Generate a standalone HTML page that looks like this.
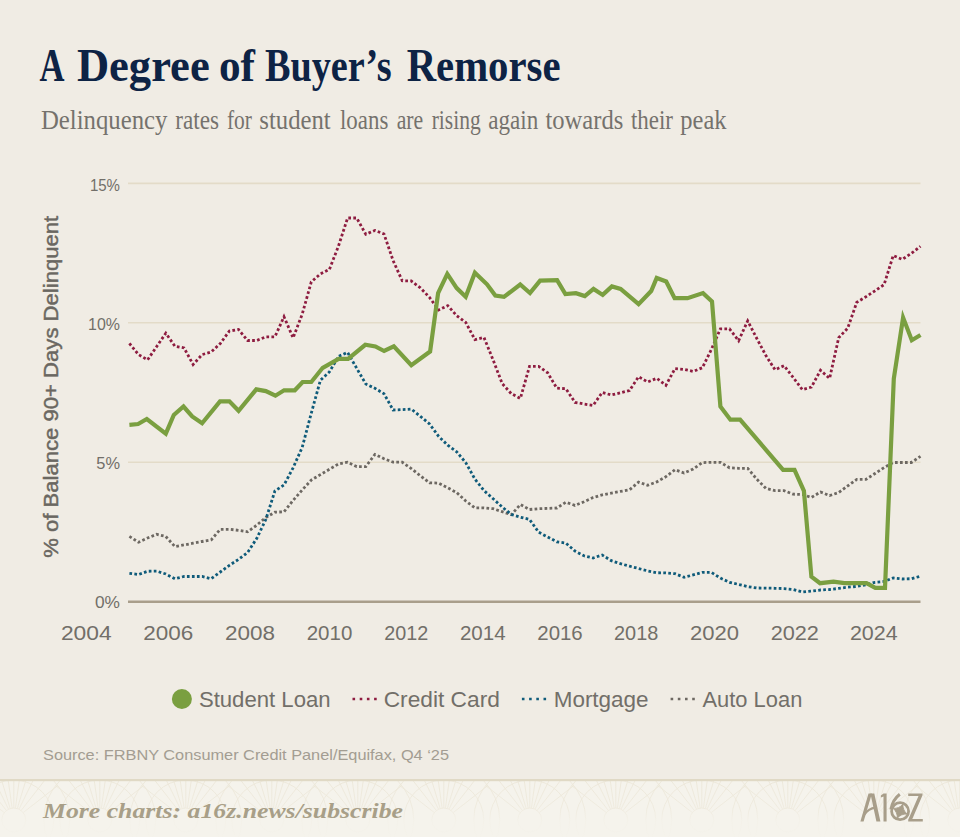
<!DOCTYPE html>
<html><head><meta charset="utf-8"><title>A Degree of Buyer's Remorse</title>
<style>
html,body{margin:0;padding:0;background:#f0ece4;}
body{width:960px;height:837px;overflow:hidden;font-family:"Liberation Sans",sans-serif;}
svg{display:block}
</style></head><body>
<svg width="960" height="837" viewBox="0 0 960 837">
<defs>
<clipPath id="fclip"><rect x="0" y="781" width="960" height="56"/></clipPath>
<linearGradient id="fade" x1="0" y1="0" x2="0" y2="1"><stop offset="0" stop-color="#f5f3ec" stop-opacity="0.1"/><stop offset="0.5" stop-color="#f5f3ec" stop-opacity="0.35"/><stop offset="0.72" stop-color="#f5f3ec" stop-opacity="0.85"/><stop offset="1" stop-color="#f5f3ec" stop-opacity="0.95"/></linearGradient>
</defs>
<rect width="960" height="837" fill="#f0ece4"/>

<rect x="0" y="780" width="960" height="57" fill="#f5f3ec"/>
<g clip-path="url(#fclip)" fill="none" stroke="#ebe5d6" stroke-width="0.9"><circle cx="-72.25" cy="820" r="12"/><circle cx="-72.25" cy="820" r="40"/><circle cx="-72.25" cy="820" r="56"/><path d="M-62.8 812.6 L-28.1 785.5 M-64.9 810.5 L-37.8 775.9 M-67.0 809.2 L-47.7 769.7 M-68.7 808.5 L-55.9 766.4 M-70.6 808.1 L-64.5 764.5 M-72.2 808.0 L-72.2 764.0 M-73.9 808.1 L-80.0 764.5 M-75.8 808.5 L-88.6 766.4 M-77.5 809.2 L-96.8 769.7 M-79.6 810.5 L-106.7 775.9 M-81.7 812.6 L-116.4 785.5 "/><circle cx="13.75" cy="820" r="12"/><circle cx="13.75" cy="820" r="40"/><circle cx="13.75" cy="820" r="56"/><path d="M23.2 812.6 L57.9 785.5 M21.1 810.5 L48.2 775.9 M19.0 809.2 L38.3 769.7 M17.3 808.5 L30.1 766.4 M15.4 808.1 L21.5 764.5 M13.8 808.0 L13.8 764.0 M12.1 808.1 L6.0 764.5 M10.2 808.5 L-2.6 766.4 M8.5 809.2 L-10.8 769.7 M6.4 810.5 L-20.7 775.9 M4.3 812.6 L-30.4 785.5 "/><circle cx="99.75" cy="820" r="12"/><circle cx="99.75" cy="820" r="40"/><circle cx="99.75" cy="820" r="56"/><path d="M109.2 812.6 L143.9 785.5 M107.1 810.5 L134.2 775.9 M105.0 809.2 L124.3 769.7 M103.3 808.5 L116.1 766.4 M101.4 808.1 L107.5 764.5 M99.8 808.0 L99.8 764.0 M98.1 808.1 L92.0 764.5 M96.2 808.5 L83.4 766.4 M94.5 809.2 L75.2 769.7 M92.4 810.5 L65.3 775.9 M90.3 812.6 L55.6 785.5 "/><circle cx="185.75" cy="820" r="12"/><circle cx="185.75" cy="820" r="40"/><circle cx="185.75" cy="820" r="56"/><path d="M195.2 812.6 L229.9 785.5 M193.1 810.5 L220.2 775.9 M191.0 809.2 L210.3 769.7 M189.3 808.5 L202.1 766.4 M187.4 808.1 L193.5 764.5 M185.8 808.0 L185.8 764.0 M184.1 808.1 L178.0 764.5 M182.2 808.5 L169.4 766.4 M180.5 809.2 L161.2 769.7 M178.4 810.5 L151.3 775.9 M176.3 812.6 L141.6 785.5 "/><circle cx="271.75" cy="820" r="12"/><circle cx="271.75" cy="820" r="40"/><circle cx="271.75" cy="820" r="56"/><path d="M281.2 812.6 L315.9 785.5 M279.1 810.5 L306.2 775.9 M277.0 809.2 L296.3 769.7 M275.3 808.5 L288.1 766.4 M273.4 808.1 L279.5 764.5 M271.8 808.0 L271.8 764.0 M270.1 808.1 L264.0 764.5 M268.2 808.5 L255.4 766.4 M266.5 809.2 L247.2 769.7 M264.4 810.5 L237.3 775.9 M262.3 812.6 L227.6 785.5 "/><circle cx="357.75" cy="820" r="12"/><circle cx="357.75" cy="820" r="40"/><circle cx="357.75" cy="820" r="56"/><path d="M367.2 812.6 L401.9 785.5 M365.1 810.5 L392.2 775.9 M363.0 809.2 L382.3 769.7 M361.3 808.5 L374.1 766.4 M359.4 808.1 L365.5 764.5 M357.8 808.0 L357.8 764.0 M356.1 808.1 L350.0 764.5 M354.2 808.5 L341.4 766.4 M352.5 809.2 L333.2 769.7 M350.4 810.5 L323.3 775.9 M348.3 812.6 L313.6 785.5 "/><circle cx="443.75" cy="820" r="12"/><circle cx="443.75" cy="820" r="40"/><circle cx="443.75" cy="820" r="56"/><path d="M453.2 812.6 L487.9 785.5 M451.1 810.5 L478.2 775.9 M449.0 809.2 L468.3 769.7 M447.3 808.5 L460.1 766.4 M445.4 808.1 L451.5 764.5 M443.8 808.0 L443.8 764.0 M442.1 808.1 L436.0 764.5 M440.2 808.5 L427.4 766.4 M438.5 809.2 L419.2 769.7 M436.4 810.5 L409.3 775.9 M434.3 812.6 L399.6 785.5 "/><circle cx="529.75" cy="820" r="12"/><circle cx="529.75" cy="820" r="40"/><circle cx="529.75" cy="820" r="56"/><path d="M539.2 812.6 L573.9 785.5 M537.1 810.5 L564.2 775.9 M535.0 809.2 L554.3 769.7 M533.3 808.5 L546.1 766.4 M531.4 808.1 L537.5 764.5 M529.8 808.0 L529.8 764.0 M528.1 808.1 L522.0 764.5 M526.2 808.5 L513.4 766.4 M524.5 809.2 L505.2 769.7 M522.4 810.5 L495.3 775.9 M520.3 812.6 L485.6 785.5 "/><circle cx="615.75" cy="820" r="12"/><circle cx="615.75" cy="820" r="40"/><circle cx="615.75" cy="820" r="56"/><path d="M625.2 812.6 L659.9 785.5 M623.1 810.5 L650.2 775.9 M621.0 809.2 L640.3 769.7 M619.3 808.5 L632.1 766.4 M617.4 808.1 L623.5 764.5 M615.8 808.0 L615.8 764.0 M614.1 808.1 L608.0 764.5 M612.2 808.5 L599.4 766.4 M610.5 809.2 L591.2 769.7 M608.4 810.5 L581.3 775.9 M606.3 812.6 L571.6 785.5 "/><circle cx="701.75" cy="820" r="12"/><circle cx="701.75" cy="820" r="40"/><circle cx="701.75" cy="820" r="56"/><path d="M711.2 812.6 L745.9 785.5 M709.1 810.5 L736.2 775.9 M707.0 809.2 L726.3 769.7 M705.3 808.5 L718.1 766.4 M703.4 808.1 L709.5 764.5 M701.8 808.0 L701.8 764.0 M700.1 808.1 L694.0 764.5 M698.2 808.5 L685.4 766.4 M696.5 809.2 L677.2 769.7 M694.4 810.5 L667.3 775.9 M692.3 812.6 L657.6 785.5 "/><circle cx="787.75" cy="820" r="12"/><circle cx="787.75" cy="820" r="40"/><circle cx="787.75" cy="820" r="56"/><path d="M797.2 812.6 L831.9 785.5 M795.1 810.5 L822.2 775.9 M793.0 809.2 L812.3 769.7 M791.3 808.5 L804.1 766.4 M789.4 808.1 L795.5 764.5 M787.8 808.0 L787.8 764.0 M786.1 808.1 L780.0 764.5 M784.2 808.5 L771.4 766.4 M782.5 809.2 L763.2 769.7 M780.4 810.5 L753.3 775.9 M778.3 812.6 L743.6 785.5 "/><circle cx="873.75" cy="820" r="12"/><circle cx="873.75" cy="820" r="40"/><circle cx="873.75" cy="820" r="56"/><path d="M883.2 812.6 L917.9 785.5 M881.1 810.5 L908.2 775.9 M879.0 809.2 L898.3 769.7 M877.3 808.5 L890.1 766.4 M875.4 808.1 L881.5 764.5 M873.8 808.0 L873.8 764.0 M872.1 808.1 L866.0 764.5 M870.2 808.5 L857.4 766.4 M868.5 809.2 L849.2 769.7 M866.4 810.5 L839.3 775.9 M864.3 812.6 L829.6 785.5 "/><circle cx="959.75" cy="820" r="12"/><circle cx="959.75" cy="820" r="40"/><circle cx="959.75" cy="820" r="56"/><path d="M969.2 812.6 L1003.9 785.5 M967.1 810.5 L994.2 775.9 M965.0 809.2 L984.3 769.7 M963.3 808.5 L976.1 766.4 M961.4 808.1 L967.5 764.5 M959.8 808.0 L959.8 764.0 M958.1 808.1 L952.0 764.5 M956.2 808.5 L943.4 766.4 M954.5 809.2 L935.2 769.7 M952.4 810.5 L925.3 775.9 M950.3 812.6 L915.6 785.5 "/><circle cx="1045.75" cy="820" r="12"/><circle cx="1045.75" cy="820" r="40"/><circle cx="1045.75" cy="820" r="56"/><path d="M1055.2 812.6 L1089.9 785.5 M1053.1 810.5 L1080.2 775.9 M1051.0 809.2 L1070.3 769.7 M1049.3 808.5 L1062.1 766.4 M1047.4 808.1 L1053.5 764.5 M1045.8 808.0 L1045.8 764.0 M1044.1 808.1 L1038.0 764.5 M1042.2 808.5 L1029.4 766.4 M1040.5 809.2 L1021.2 769.7 M1038.4 810.5 L1011.3 775.9 M1036.3 812.6 L1001.6 785.5 "/></g>
<rect x="0" y="780" width="960" height="57" fill="url(#fade)"/>
<rect x="0" y="779" width="960" height="2.2" fill="#e0d9c5"/>
<text x="39.4" y="81" font-family="Liberation Serif, sans-serif" font-size="46" fill="#0d2345" text-anchor="start" font-weight="bold" font-style="normal" textLength="25.0" lengthAdjust="spacingAndGlyphs" >A</text>
<text x="76.9" y="81" font-family="Liberation Serif, sans-serif" font-size="46" fill="#0d2345" text-anchor="start" font-weight="bold" font-style="normal" textLength="132.8" lengthAdjust="spacingAndGlyphs" >Degree</text>
<text x="219" y="81" font-family="Liberation Serif, sans-serif" font-size="46" fill="#0d2345" text-anchor="start" font-weight="bold" font-style="normal" textLength="36" lengthAdjust="spacingAndGlyphs" >of</text>
<text x="265" y="81" font-family="Liberation Serif, sans-serif" font-size="46" fill="#0d2345" text-anchor="start" font-weight="bold" font-style="normal" textLength="126.7" lengthAdjust="spacingAndGlyphs" >Buyer’s</text>
<text x="406.7" y="81" font-family="Liberation Serif, sans-serif" font-size="46" fill="#0d2345" text-anchor="start" font-weight="bold" font-style="normal" textLength="153.8" lengthAdjust="spacingAndGlyphs" >Remorse</text>
<text x="40.9" y="129" font-family="Liberation Serif, sans-serif" font-size="28" fill="#75726d" text-anchor="start" font-weight="normal" font-style="normal" textLength="126.6" lengthAdjust="spacingAndGlyphs" >Delinquency</text>
<text x="175.3" y="129" font-family="Liberation Serif, sans-serif" font-size="28" fill="#75726d" text-anchor="start" font-weight="normal" font-style="normal" textLength="43.7" lengthAdjust="spacingAndGlyphs" >rates</text>
<text x="226.9" y="129" font-family="Liberation Serif, sans-serif" font-size="28" fill="#75726d" text-anchor="start" font-weight="normal" font-style="normal" textLength="25.0" lengthAdjust="spacingAndGlyphs" >for</text>
<text x="259.3" y="129" font-family="Liberation Serif, sans-serif" font-size="28" fill="#75726d" text-anchor="start" font-weight="normal" font-style="normal" textLength="71.4" lengthAdjust="spacingAndGlyphs" >student</text>
<text x="340" y="129" font-family="Liberation Serif, sans-serif" font-size="28" fill="#75726d" text-anchor="start" font-weight="normal" font-style="normal" textLength="48.3" lengthAdjust="spacingAndGlyphs" >loans</text>
<text x="396.7" y="129" font-family="Liberation Serif, sans-serif" font-size="28" fill="#75726d" text-anchor="start" font-weight="normal" font-style="normal" textLength="26.6" lengthAdjust="spacingAndGlyphs" >are</text>
<text x="431.7" y="129" font-family="Liberation Serif, sans-serif" font-size="28" fill="#75726d" text-anchor="start" font-weight="normal" font-style="normal" textLength="49.0" lengthAdjust="spacingAndGlyphs" >rising</text>
<text x="488.3" y="129" font-family="Liberation Serif, sans-serif" font-size="28" fill="#75726d" text-anchor="start" font-weight="normal" font-style="normal" textLength="50.0" lengthAdjust="spacingAndGlyphs" >again</text>
<text x="545.4" y="129" font-family="Liberation Serif, sans-serif" font-size="28" fill="#75726d" text-anchor="start" font-weight="normal" font-style="normal" textLength="77.9" lengthAdjust="spacingAndGlyphs" >towards</text>
<text x="630.9" y="129" font-family="Liberation Serif, sans-serif" font-size="28" fill="#75726d" text-anchor="start" font-weight="normal" font-style="normal" textLength="42.1" lengthAdjust="spacingAndGlyphs" >their</text>
<text x="680.3" y="129" font-family="Liberation Serif, sans-serif" font-size="28" fill="#75726d" text-anchor="start" font-weight="normal" font-style="normal" textLength="46.2" lengthAdjust="spacingAndGlyphs" >peak</text>
<line x1="128" x2="920.5" y1="183.4" y2="183.4" stroke="#e3dbc8" stroke-width="1.6"/>
<line x1="128" x2="920.5" y1="322.8" y2="322.8" stroke="#e3dbc8" stroke-width="1.6"/>
<line x1="128" x2="920.5" y1="462.2" y2="462.2" stroke="#e3dbc8" stroke-width="1.6"/>
<line x1="128" x2="920.5" y1="601.7" y2="601.7" stroke="#a99e8b" stroke-width="2.4"/>
<text x="120" y="190.79999999999998" font-family="Liberation Sans, sans-serif" font-size="17" fill="#726f69" text-anchor="end" font-weight="normal" font-style="normal" textLength="30.1" lengthAdjust="spacingAndGlyphs" >15%</text>
<text x="120" y="329.5" font-family="Liberation Sans, sans-serif" font-size="17" fill="#726f69" text-anchor="end" font-weight="normal" font-style="normal" textLength="31.9" lengthAdjust="spacingAndGlyphs" >10%</text>
<text x="120" y="468.5" font-family="Liberation Sans, sans-serif" font-size="17" fill="#726f69" text-anchor="end" font-weight="normal" font-style="normal" textLength="23.7" lengthAdjust="spacingAndGlyphs" >5%</text>
<text x="120" y="607.8000000000001" font-family="Liberation Sans, sans-serif" font-size="17" fill="#726f69" text-anchor="end" font-weight="normal" font-style="normal" textLength="25" lengthAdjust="spacingAndGlyphs" >0%</text>
<text transform="translate(58,386.8) rotate(-90)" text-anchor="middle" font-family="Liberation Sans, sans-serif" font-weight="normal" font-size="20" fill="#6a6761" stroke="#6a6761" stroke-width="0.45" textLength="342" lengthAdjust="spacingAndGlyphs">% of Balance 90+ Days Delinquent</text>
<text x="86.3" y="640" font-family="Liberation Sans, sans-serif" font-size="20" fill="#726f69" text-anchor="middle" font-weight="normal" font-style="normal" textLength="50.7" lengthAdjust="spacingAndGlyphs" >2004</text>
<text x="168.3" y="640" font-family="Liberation Sans, sans-serif" font-size="20" fill="#726f69" text-anchor="middle" font-weight="normal" font-style="normal" textLength="50" lengthAdjust="spacingAndGlyphs" >2006</text>
<text x="250" y="640" font-family="Liberation Sans, sans-serif" font-size="20" fill="#726f69" text-anchor="middle" font-weight="normal" font-style="normal" textLength="50" lengthAdjust="spacingAndGlyphs" >2008</text>
<text x="329.5" y="640" font-family="Liberation Sans, sans-serif" font-size="20" fill="#726f69" text-anchor="middle" font-weight="normal" font-style="normal" textLength="45.6" lengthAdjust="spacingAndGlyphs" >2010</text>
<text x="406.3" y="640" font-family="Liberation Sans, sans-serif" font-size="20" fill="#726f69" text-anchor="middle" font-weight="normal" font-style="normal" textLength="44" lengthAdjust="spacingAndGlyphs" >2012</text>
<text x="482.8" y="640" font-family="Liberation Sans, sans-serif" font-size="20" fill="#726f69" text-anchor="middle" font-weight="normal" font-style="normal" textLength="45.7" lengthAdjust="spacingAndGlyphs" >2014</text>
<text x="560" y="640" font-family="Liberation Sans, sans-serif" font-size="20" fill="#726f69" text-anchor="middle" font-weight="normal" font-style="normal" textLength="45.4" lengthAdjust="spacingAndGlyphs" >2016</text>
<text x="636.2" y="640" font-family="Liberation Sans, sans-serif" font-size="20" fill="#726f69" text-anchor="middle" font-weight="normal" font-style="normal" textLength="44.3" lengthAdjust="spacingAndGlyphs" >2018</text>
<text x="714.5" y="640" font-family="Liberation Sans, sans-serif" font-size="20" fill="#726f69" text-anchor="middle" font-weight="normal" font-style="normal" textLength="49" lengthAdjust="spacingAndGlyphs" >2020</text>
<text x="794.8" y="640" font-family="Liberation Sans, sans-serif" font-size="20" fill="#726f69" text-anchor="middle" font-weight="normal" font-style="normal" textLength="48.3" lengthAdjust="spacingAndGlyphs" >2022</text>
<text x="873.8" y="640" font-family="Liberation Sans, sans-serif" font-size="20" fill="#726f69" text-anchor="middle" font-weight="normal" font-style="normal" textLength="47.7" lengthAdjust="spacingAndGlyphs" >2024</text>
<polyline points="129.4,536.4 138.5,542.2 147.6,538.0 156.7,534.3 165.8,536.5 174.9,546.6 184.0,544.9 193.1,543.2 202.1,541.5 211.2,539.9 220.3,529.3 229.4,529.3 238.5,530.3 247.6,531.8 256.7,525.2 265.8,517.5 274.9,512.2 284.0,511.8 293.1,500.4 302.2,490.0 311.3,480.0 320.4,474.6 329.4,469.3 338.5,463.9 347.6,462.2 356.7,466.6 365.8,466.6 374.9,454.4 384.0,458.7 393.1,462.2 402.2,462.2 411.3,468.6 420.4,475.8 429.5,482.8 438.6,483.1 447.7,487.8 456.7,492.6 465.8,501.0 474.9,507.9 484.0,507.9 493.1,508.7 502.2,511.7 511.3,514.7 520.4,504.5 529.5,509.5 538.6,508.7 547.7,508.4 556.8,508.0 565.9,502.2 575.0,505.4 584.0,501.8 593.1,497.5 602.2,494.9 611.3,493.1 620.4,491.4 629.5,489.8 638.6,482.1 647.7,485.3 656.8,481.9 665.9,476.7 675.0,469.7 684.1,473.0 693.2,469.0 702.3,462.6 711.4,462.3 720.4,462.3 729.5,467.8 738.6,468.3 747.7,468.3 756.8,479.2 765.9,488.4 775.0,490.7 784.1,490.7 793.2,494.2 802.3,494.5 811.4,497.4 820.5,492.0 829.6,495.6 838.7,492.5 847.7,485.9 856.8,479.4 865.9,479.4 875.0,473.5 884.1,467.5 893.2,462.5 902.3,462.5 911.4,462.5 920.5,456.3" fill="none" stroke="#6d6862" stroke-width="2.8" stroke-dasharray="2.7 2.3" stroke-linejoin="miter"/>
<polyline points="129.4,573.3 138.5,574.5 147.6,571.3 156.7,571.1 165.8,574.0 174.9,578.7 184.0,576.5 193.1,576.5 202.1,576.5 211.2,578.7 220.3,572.0 229.4,565.3 238.5,559.4 247.6,552.5 256.7,538.5 265.8,519.5 274.9,491.0 284.0,485.0 293.1,467.8 302.2,447.4 311.3,413.1 320.4,380.3 329.4,371.9 338.5,356.4 347.6,352.4 356.7,368.3 365.8,384.0 374.9,388.3 384.0,393.7 393.1,410.0 402.2,409.6 411.3,409.1 420.4,416.4 429.5,423.9 438.6,436.3 447.7,445.2 456.7,451.8 465.8,462.7 474.9,479.1 484.0,490.6 493.1,498.7 502.2,507.0 511.3,514.4 520.4,517.2 529.5,519.4 538.6,532.2 547.7,537.0 556.8,541.8 565.9,543.1 575.0,551.1 584.0,555.8 593.1,558.0 602.2,555.0 611.3,560.7 620.4,563.7 629.5,566.2 638.6,568.5 647.7,570.9 656.8,572.7 665.9,572.9 675.0,573.7 684.1,577.3 693.2,574.9 702.3,572.4 711.4,572.4 720.4,578.1 729.5,582.3 738.6,584.4 747.7,586.6 756.8,588.0 765.9,588.1 775.0,588.3 784.1,588.6 793.2,589.5 802.3,592.0 811.4,591.1 820.5,590.0 829.6,589.5 838.7,588.4 847.7,587.2 856.8,586.4 865.9,584.8 875.0,582.3 884.1,581.5 893.2,578.0 902.3,579.0 911.4,578.7 920.5,576.2" fill="none" stroke="#0f5b7a" stroke-width="2.8" stroke-dasharray="2.7 2.3" stroke-linejoin="miter"/>
<polyline points="129.4,343.4 138.5,354.6 147.6,359.8 156.7,346.5 165.8,333.2 174.9,346.2 184.0,347.9 193.1,364.5 202.1,354.6 211.2,352.0 220.3,343.5 229.4,331.0 238.5,329.5 247.6,340.5 256.7,340.5 265.8,336.8 274.9,336.8 284.0,316.7 293.1,337.9 302.2,314.2 311.3,281.9 320.4,273.9 329.4,269.4 338.5,246.0 347.6,218.0 356.7,218.0 365.8,234.3 374.9,230.4 384.0,234.0 393.1,260.6 402.2,280.7 411.3,281.0 420.4,287.9 429.5,297.4 438.6,310.0 447.7,305.6 456.7,315.7 465.8,322.5 474.9,339.6 484.0,337.5 493.1,359.9 502.2,383.6 511.3,393.7 520.4,398.4 529.5,366.4 538.6,366.4 547.7,372.8 556.8,388.2 565.9,388.7 575.0,402.4 584.0,404.0 593.1,405.4 602.2,392.5 611.3,395.0 620.4,392.8 629.5,390.5 638.6,376.8 647.7,382.0 656.8,378.3 665.9,385.3 675.0,368.6 684.1,369.4 693.2,371.4 702.3,367.8 711.4,349.4 720.4,328.8 729.5,328.8 738.6,340.7 747.7,320.9 756.8,338.5 765.9,355.5 775.0,369.8 784.1,365.7 793.2,377.5 802.3,389.6 811.4,387.1 820.5,370.3 829.6,378.4 838.7,337.7 847.7,328.2 856.8,302.3 865.9,296.8 875.0,290.8 884.1,284.6 893.2,255.6 902.3,259.4 911.4,253.4 920.5,246.3" fill="none" stroke="#8e1c40" stroke-width="2.8" stroke-dasharray="2.7 2.3" stroke-linejoin="miter"/>
<polyline points="129.4,424.8 138.1,424.0 146.8,419.0 165.8,433.7 173.8,415.0 183.5,406.5 192.2,416.5 202.1,423.3 220.0,401.4 229.4,401.4 238.6,410.8 256.3,389.4 265.8,391.1 275.4,395.7 284.1,390.3 294.8,390.3 302.6,382.0 311.3,382.0 322.7,367.8 338.6,358.9 348.1,358.9 365.3,344.8 375.4,346.4 384.1,351.0 393.8,346.4 411.3,365.2 430.1,351.5 438.1,293.1 447.3,273.9 456.7,288.1 465.7,296.8 474.9,272.7 487.0,284.3 495.3,295.5 504.0,296.8 520.2,284.5 530.0,293.1 540.1,280.6 557.1,280.2 565.4,294.0 575.9,293.2 584.8,296.1 593.5,288.9 602.7,294.9 611.9,286.4 620.6,288.9 638.6,304.1 651.2,291.0 656.7,278.0 666.2,281.5 674.6,298.2 687.5,298.2 703.0,293.1 712.0,301.4 720.4,406.5 730.4,419.7 740.1,419.7 783.1,469.8 794.5,469.8 803.9,490.8 811.4,576.7 820.1,583.2 833.5,581.7 844.4,583.2 866.5,583.2 875.3,587.9 885.0,587.9 893.8,378.7 903.1,317.6 911.8,340.2 920.5,335.0" fill="none" stroke="#7a9f40" stroke-width="4.2" stroke-linejoin="miter" stroke-miterlimit="6"/>
<circle cx="181.9" cy="699" r="10" fill="#7a9f40"/>
<text x="198.9" y="706.5" font-family="Liberation Sans, sans-serif" font-size="21.5" fill="#726f69" text-anchor="start" font-weight="normal" font-style="normal" textLength="131.7" lengthAdjust="spacingAndGlyphs" >Student Loan</text>
<line x1="352.5" x2="377" y1="699" y2="699" stroke="#8e1c40" stroke-width="2.4" stroke-dasharray="2.6 4.6"/>
<text x="383.7" y="706.5" font-family="Liberation Sans, sans-serif" font-size="21.5" fill="#726f69" text-anchor="start" font-weight="normal" font-style="normal" textLength="116.2" lengthAdjust="spacingAndGlyphs" >Credit Card</text>
<line x1="521.9" x2="547" y1="699" y2="699" stroke="#0f5b7a" stroke-width="2.4" stroke-dasharray="2.6 4.6"/>
<text x="553.7" y="706.5" font-family="Liberation Sans, sans-serif" font-size="21.5" fill="#726f69" text-anchor="start" font-weight="normal" font-style="normal" textLength="94.9" lengthAdjust="spacingAndGlyphs" >Mortgage</text>
<line x1="670.6" x2="695" y1="699" y2="699" stroke="#6d6862" stroke-width="2.4" stroke-dasharray="2.6 4.6"/>
<text x="702.5" y="706.5" font-family="Liberation Sans, sans-serif" font-size="21.5" fill="#726f69" text-anchor="start" font-weight="normal" font-style="normal" textLength="99.8" lengthAdjust="spacingAndGlyphs" >Auto Loan</text>
<text x="43" y="760" font-family="Liberation Sans, sans-serif" font-size="14.5" fill="#a39d92" text-anchor="start" font-weight="normal" font-style="normal" textLength="406" lengthAdjust="spacingAndGlyphs" >Source: FRBNY Consumer Credit Panel/Equifax, Q4 ‘25</text>
<text x="43" y="817.8" font-family="Liberation Serif, sans-serif" font-size="21.5" fill="#a89f88" text-anchor="start" font-weight="bold" font-style="italic" textLength="360" lengthAdjust="spacingAndGlyphs" >More charts: a16z.news/subscribe</text>
<g fill="#a89e8a" stroke="none">
<polygon points="860.4,821.5 868.5,793.4 871.9,793.4 863.6,821.5"/>
<polygon points="870.4,793.4 874.3,793.4 880.4,821.5 876.4,821.5"/>
<polygon points="880.9,795.4 883.5,793.4 886.6,793.4 886.6,821.5 883.5,821.5 883.5,796.6 880.9,797.6"/>
<polygon points="908.2,793.4 922.5,793.4 922.5,795.2 912.3,818.9 922.8,818.9 922.8,821.5 908.2,821.5 908.2,819.8 918.5,796.1 908.2,796.1"/>
</g>
<g fill="none" stroke="#a89e8a">
<path d="M864.3 814.6 Q868.2 808.6 875.6 807.6" stroke-width="2.2"/>
<circle cx="900.1" cy="811.2" r="8.5" stroke-width="2.8"/>
<path d="M899.8 794.2 Q892.6 799.6 890.9 809.5" stroke-width="3"/>
</g>
<path transform="rotate(22 900.1 811.2)" d="M900.1 803.6 Q902 809.3 907.7 811.2 Q902 813.1 900.1 818.8 Q898.2 813.1 892.5 811.2 Q898.2 809.3 900.1 803.6 Z" fill="#a89e8a" stroke="#a89e8a" stroke-width="0.8"/>

</svg></body></html>
